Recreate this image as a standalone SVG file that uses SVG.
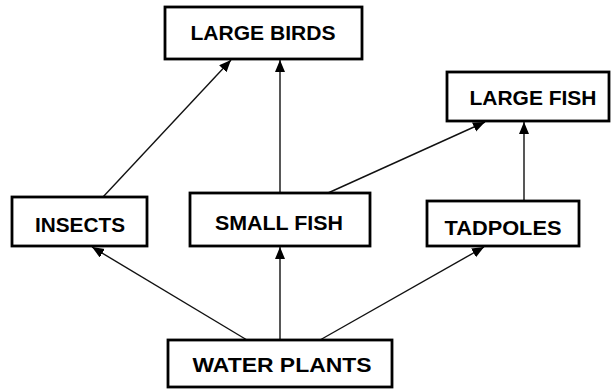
<svg xmlns="http://www.w3.org/2000/svg" width="615" height="390" viewBox="0 0 615 390">
<style>
.box{fill:#fff;stroke:#000;stroke-width:2.8}
.lbl{font-family:"Liberation Sans",Arial,sans-serif;font-weight:bold;font-size:20px;fill:#000;text-anchor:middle}
.edge{stroke:#111;stroke-width:1.4;fill:none;marker-end:url(#ah)}
</style>
<defs>
<marker id="ah" markerUnits="userSpaceOnUse" markerWidth="13" markerHeight="11" refX="12" refY="5" orient="auto">
<path d="M0,0 L12,5 L0,10 z" fill="#000"/>
</marker>
</defs>
<rect width="615" height="390" fill="#fff"/>
<g id="connectors">
<line class="edge" x1="103" y1="197" x2="231" y2="60"/>
<line class="edge" x1="280" y1="193" x2="280" y2="60"/>
<line class="edge" x1="328" y1="193" x2="485" y2="122"/>
<line class="edge" x1="524" y1="201" x2="524" y2="122"/>
<line class="edge" x1="247" y1="340" x2="92" y2="247"/>
<line class="edge" x1="280" y1="340" x2="280" y2="247"/>
<line class="edge" x1="320" y1="340" x2="484" y2="247"/>
</g>
<g id="large-birds">
<rect class="box" x="165" y="7" width="197" height="52"/>
<text class="lbl" x="263" y="40" textLength="145" lengthAdjust="spacingAndGlyphs">LARGE BIRDS</text>
</g>
<g id="large-fish">
<rect class="box" x="447" y="72" width="162" height="49"/>
<text class="lbl" x="533" y="105" textLength="127" lengthAdjust="spacingAndGlyphs">LARGE FISH</text>
</g>
<g id="insects">
<rect class="box" x="12" y="197" width="135" height="49"/>
<text class="lbl" x="80" y="232" textLength="90" lengthAdjust="spacingAndGlyphs">INSECTS</text>
</g>
<g id="small-fish">
<rect class="box" x="190" y="193" width="180" height="53"/>
<text class="lbl" x="279" y="230" textLength="128" lengthAdjust="spacingAndGlyphs">SMALL FISH</text>
</g>
<g id="tadpoles">
<rect class="box" x="427" y="201" width="152" height="45"/>
<text class="lbl" x="503" y="235" textLength="117" lengthAdjust="spacingAndGlyphs">TADPOLES</text>
</g>
<g id="water-plants">
<rect class="box" x="168" y="340" width="224" height="47"/>
<text class="lbl" x="282" y="372" textLength="179" lengthAdjust="spacingAndGlyphs">WATER PLANTS</text>
</g>
</svg>
